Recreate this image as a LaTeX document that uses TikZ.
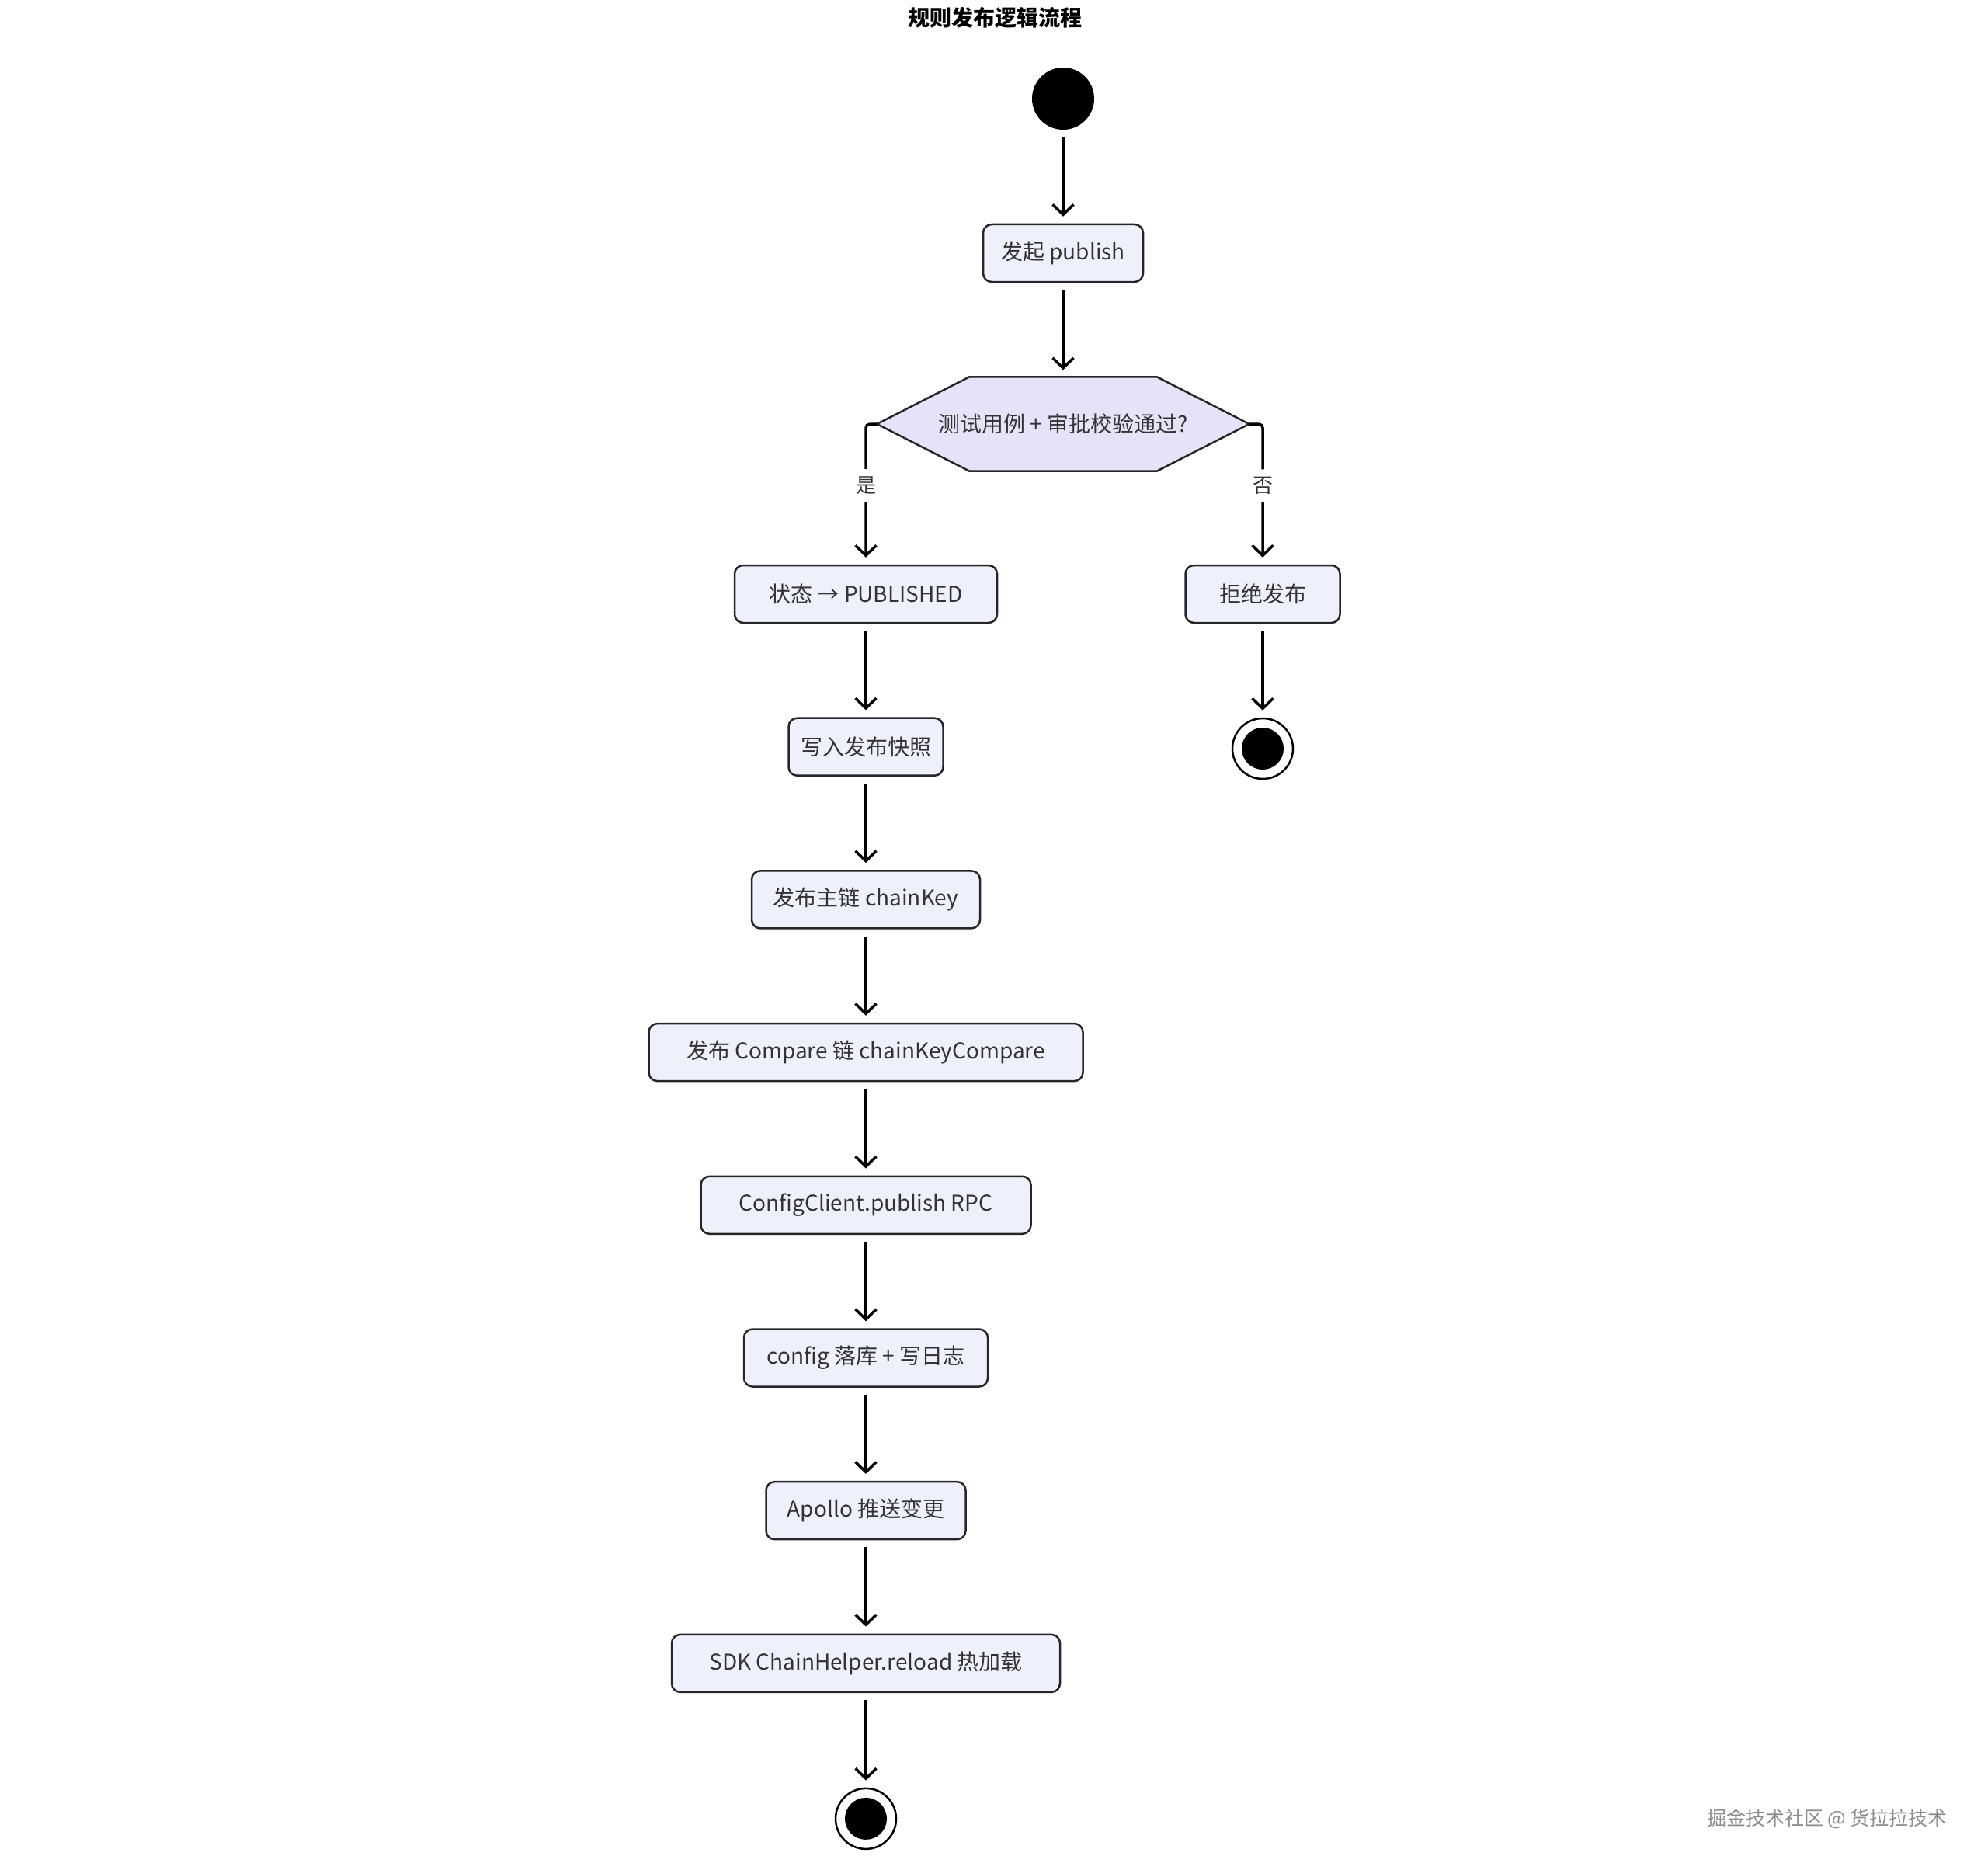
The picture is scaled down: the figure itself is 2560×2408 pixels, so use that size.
\documentclass[tikz,border=0pt]{standalone}
\usepackage{fontspec}
\setmainfont{Noto Sans CJK SC}
\usetikzlibrary{arrows.meta,positioning,backgrounds}

\definecolor{boxfill}{HTML}{EEF1FC}
\definecolor{decfill}{HTML}{E7E2F8}
\definecolor{ink}{HTML}{333333}

\tikzset{
  actbox/.style={draw=black!85, line width=2.5pt, fill=boxfill, rounded corners=11pt,
    minimum height=74pt, inner xsep=10pt, text=ink, font=\fontsize{28}{34}\selectfont},
  flow/.style={-{Straight Barb[length=13pt,width=27pt]}, line width=3.5pt,
    shorten <=9pt, shorten >=9pt},
  startdot/.style={circle, fill=black, minimum size=80pt, inner sep=0pt},
  enddot/.style={circle, draw=black, line width=2.5pt, fill=white, minimum size=78pt,
    inner sep=0pt, path picture={\fill[black] (path picture bounding box.center) circle (27pt);}},
  guard/.style={fill=white, inner xsep=4pt, inner ysep=10pt, text=ink, font=\fontsize{26}{30}\selectfont},
}

\begin{document}
\begin{tikzpicture}[x=1pt, y=1pt, node distance=196.7pt]
\useasboundingbox (0,0) rectangle (2560,-2408);
\node (title) at (1281,-23) {\fontsize{28}{34}\selectfont\bfseries 规则发布逻辑流程};
\node (start) [startdot] at (1369,-127) {};
\node (b1) [actbox, minimum width=206pt, below of=start, node distance=199pt] {发起 publish};
\node (chk) [below of=b1, node distance=220pt, minimum width=479pt, minimum height=121pt,
  text=ink, font=\fontsize{28}{34}\selectfont] {测试用例 + 审批校验通过?};
\begin{scope}[on background layer]
\draw[line width=2.5pt, draw=black!85, fill=decfill, line join=round]
  (chk.west) -- ([xshift=119pt]chk.north west) -- ([xshift=-119pt]chk.north east)
  -- (chk.east) -- ([xshift=-119pt]chk.south east) -- ([xshift=119pt]chk.south west) -- cycle;
\end{scope}
\node (pub) [actbox, minimum width=338pt, below of=chk, node distance=219pt, xshift=-254pt] {状态 → PUBLISHED};
\node (rej) [actbox, minimum width=199pt, below of=chk, node distance=219pt, xshift=257pt] {拒绝发布};
\node (end2) [enddot, below of=rej, node distance=199pt] {};
\node (snap) [actbox, minimum width=199pt, below of=pub] {写入发布快照};
\node (main) [actbox, minimum width=294pt, below of=snap] {发布主链 chainKey};
\node (cmp) [actbox, minimum width=559pt, below of=main] {发布 Compare 链 chainKeyCompare};
\node (rpc) [actbox, minimum width=425pt, below of=cmp] {ConfigClient.publish RPC};
\node (db) [actbox, minimum width=314pt, below of=rpc] {config 落库 + 写日志};
\node (apollo) [actbox, minimum width=257pt, below of=db] {Apollo 推送变更};
\node (sdk) [actbox, minimum width=500pt, below of=apollo] {SDK ChainHelper.reload 热加载};
\node (end1) [enddot, below of=sdk, node distance=200pt] {};
\node (mark) at (2353,-2342) {\fontsize{25}{30}\selectfont\color{black!45} 掘金技术社区 @ 货拉拉技术};
\draw[flow] (start) to (b1);
\draw[flow] (b1) to (chk);
\draw[flow, shorten <=0pt, rounded corners=5pt] (chk.west) -| node[guard, pos=0.72] {是} (pub.north);
\draw[flow, shorten <=0pt, rounded corners=5pt] (chk.east) -| node[guard, pos=0.72] {否} (rej.north);
\draw[flow] (rej) to (end2);
\draw[flow] (pub) to (snap);
\draw[flow] (snap) to (main);
\draw[flow] (main) to (cmp);
\draw[flow] (cmp) to (rpc);
\draw[flow] (rpc) to (db);
\draw[flow] (db) to (apollo);
\draw[flow] (apollo) to (sdk);
\draw[flow] (sdk) to (end1);
\end{tikzpicture}
\end{document}
